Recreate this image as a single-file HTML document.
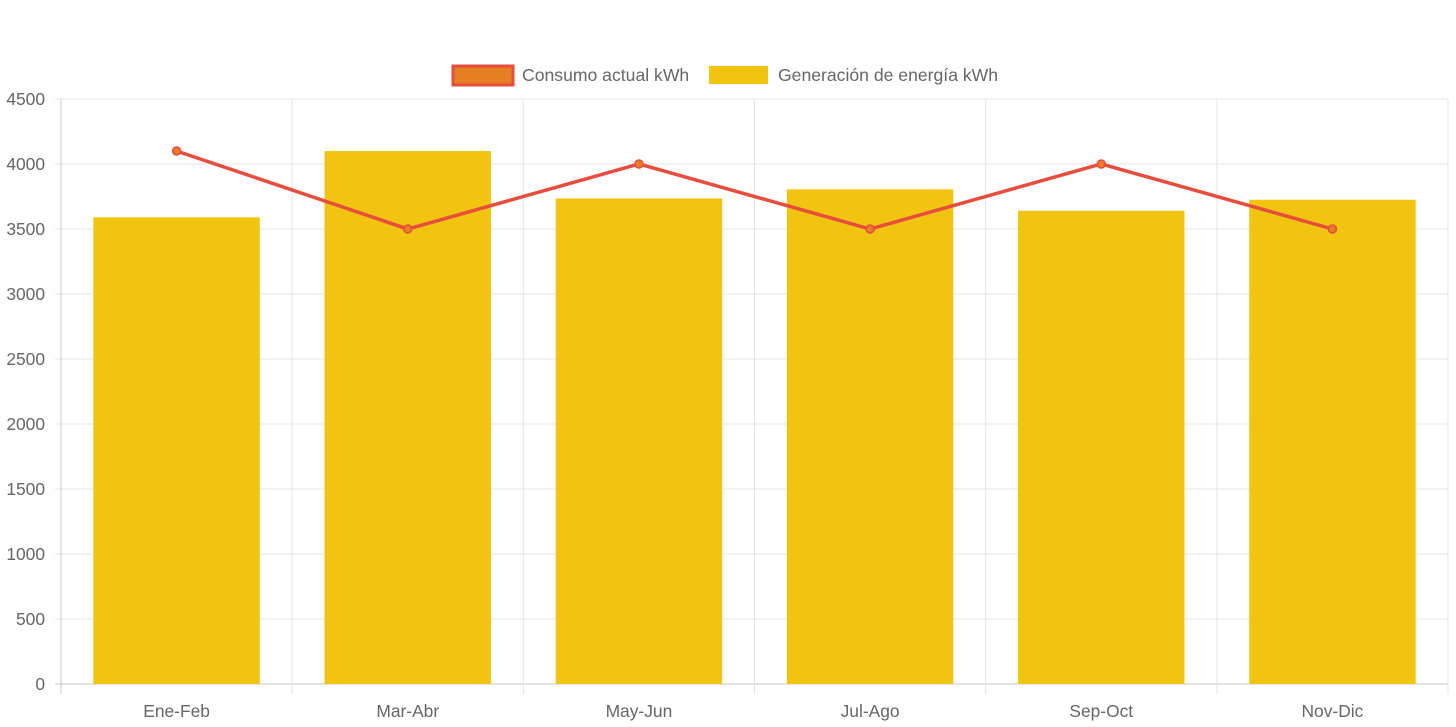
<!DOCTYPE html>
<html><head><meta charset="utf-8"><style>
body{margin:0;background:#fff;width:1456px;height:727px;overflow:hidden}
svg{display:block;font-family:"Liberation Sans",sans-serif}
</style></head><body>
<svg id="c" width="1456" height="727">
<g>
<g>
<rect x="453" y="66" width="60" height="19" fill="#e67e22" stroke="#e74c3c" stroke-width="3"/>
<text x="522" y="81" font-size="17.6" fill="#666">Consumo actual kWh</text></g>
<g>
<rect x="709" y="66" width="59" height="18" fill="#f1c40f"/>
<text x="778" y="81" font-size="17.6" fill="#666">Generación de energía kWh</text></g>
</g>
<g id="grid"></g>
<g id="bars"></g>
<g id="line"></g>
</svg>
<script>
const categories=["Ene-Feb","Mar-Abr","May-Jun","Jul-Ago","Sep-Oct","Nov-Dic"];
const generacion=[3590,4100,3735,3805,3640,3725];
const consumo=[4100,3500,4000,3500,4000,3500];
const yTicks=[0,500,1000,1500,2000,2500,3000,3500,4000,4500];
const L=61,R=1448,T=99,B=684,YMAX=4500;
const ns="http://www.w3.org/2000/svg";
const y=v=>B-(v/YMAX)*(B-T);
const cw=(R-L)/categories.length;
const xc=i=>L+cw*(i+0.5);
function mk(t,a,p){const e=document.createElementNS(ns,t);for(const k in a)e.setAttribute(k,a[k]);p.appendChild(e);return e;}
const g=document.getElementById('grid');
yTicks.forEach(v=>{
 const ln=mk('line',{x1:L-6,x2:R,y1:y(v),y2:y(v),stroke:v===0?'#c8c8c8':'#e5e5e5','stroke-width':1},g);
 
 
 const t=mk('text',{x:L-16,y:y(v)+6,'text-anchor':'end','font-size':17.4,fill:'#666'},g);
 t.textContent=v;
 
 
});
for(let i=0;i<=categories.length;i++){
 const x=L+cw*i;
 const ln=mk('line',{x1:x,x2:x,y1:T,y2:B+10,stroke:i===0?'#c8c8c8':'#e5e5e5','stroke-width':1},g);
 
 
}
categories.forEach((c,i)=>{
 const t=mk('text',{x:xc(i),y:717,'text-anchor':'middle','font-size':17.4,fill:'#666'},g);
 t.textContent=c;
 
 
});
const bg=document.getElementById('bars');
const bw=cw*0.72;
generacion.forEach((v,i)=>{
 const r=mk('rect',{x:xc(i)-bw/2,y:y(v),width:bw,height:B-y(v),fill:'#f1c40f'},bg);
 
 
});
const lg=document.getElementById('line');
const pl=mk('polyline',{points:consumo.map((v,i)=>xc(i)+','+y(v)).join(' '),fill:'none',stroke:'#e74c3c','stroke-width':3.5},lg);


consumo.forEach((v,i)=>{
 const c=mk('circle',{cx:xc(i),cy:y(v),r:4,fill:'#e67e22',stroke:'#e74c3c','stroke-width':1.5},lg);
 
 
});
</script>
</body></html>
